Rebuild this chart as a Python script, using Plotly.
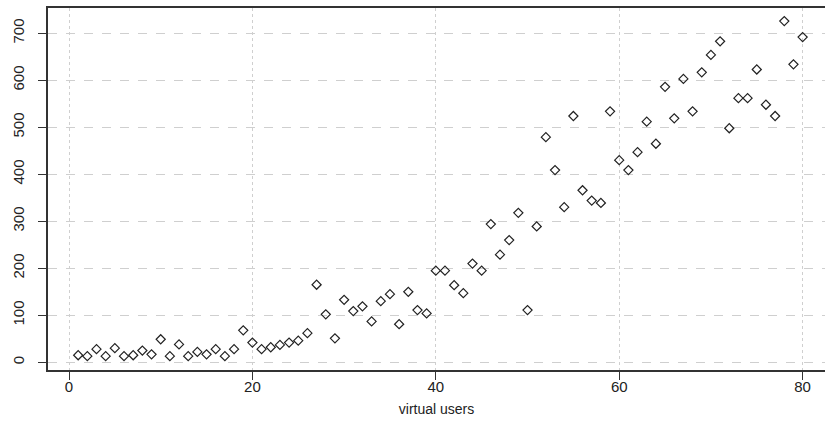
import plotly.graph_objects as go

virtual_users = list(range(1, 81))
response = [
    15, 13, 28, 13, 30, 13, 15, 25, 17, 49,
    13, 38, 13, 22, 17, 28, 13, 28, 68, 42,
    28, 32, 37, 42, 46, 62, 165, 102, 51, 133,
    109, 119, 87, 130, 145, 81, 150, 111, 104, 195,
    195, 164, 147, 210, 195, 294, 229, 260, 318, 111,
    289, 479, 409, 330, 524, 366, 344, 339, 534, 430,
    409, 447, 512, 465, 586, 519, 603, 534, 617, 654,
    683, 498, 562, 562, 623, 548, 524, 726, 634, 692,
]
x_ticks = [0, 20, 40, 60, 80]
y_ticks = [0, 100, 200, 300, 400, 500, 600, 700]

font_family = "Liberation Sans Narrow, Liberation Sans, Arial, sans-serif"

fig = go.Figure(
    go.Scatter(
        x=virtual_users,
        y=response,
        mode="markers",
        marker=dict(symbol="diamond-open", size=7, color="#222222",
                    line=dict(width=1.2, color="#222222")),
        showlegend=False,
    )
)

fig.update_layout(
    width=825,
    height=440,
    margin=dict(l=48, r=0, t=8, b=70),
    paper_bgcolor="white",
    plot_bgcolor="white",
    font=dict(family=font_family, size=15, color="#222222"),
)

fig.update_xaxes(
    range=[-2.29, 82.44],
    tickvals=x_ticks,
    ticks="outside",
    ticklen=8,
    tickwidth=1.2,
    tickcolor="#333333",
    showline=True,
    linecolor="#333333",
    linewidth=1.5,
    mirror=True,
    showgrid=True,
    gridcolor="#cfcfcf",
    griddash="dot",
    gridwidth=1,
    zeroline=False,
    title=dict(text="virtual users", font=dict(size=14), standoff=10),
    ticklabelstandoff=-6,
)

fig.update_yaxes(
    range=[-16.4, 753.8],
    tickvals=y_ticks,
    ticks="outside",
    ticklen=8,
    tickwidth=1.2,
    tickcolor="#333333",
    showline=True,
    linecolor="#333333",
    linewidth=1.5,
    mirror=False,
    showgrid=True,
    gridcolor="#cfcfcf",
    griddash="dash",
    gridwidth=1,
    zeroline=False,
    tickangle=-90,
    ticklabelstandoff=8,
)

fig.write_html("out.html")
